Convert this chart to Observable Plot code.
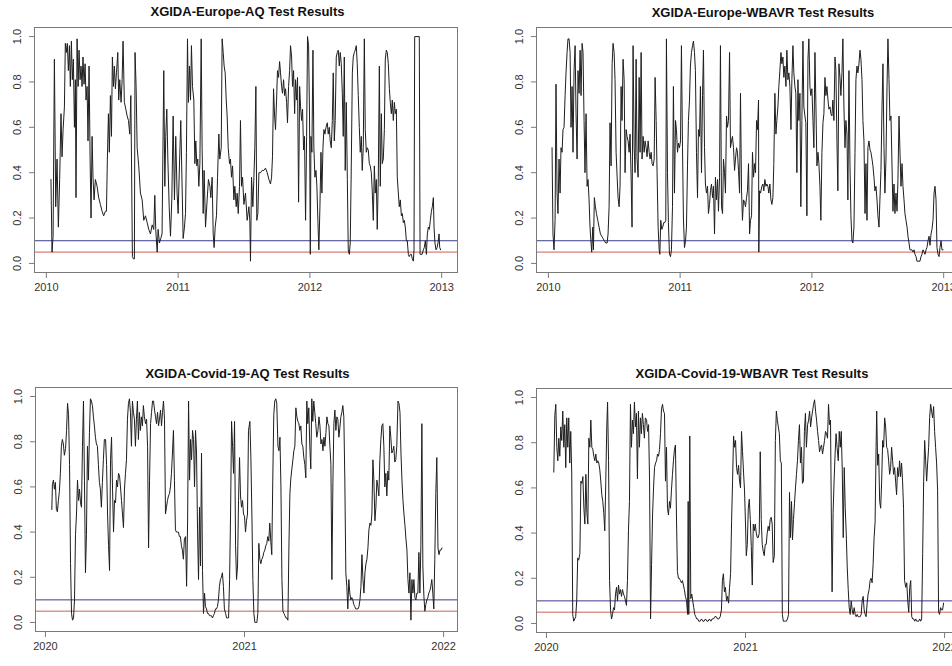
<!DOCTYPE html>
<html><head><meta charset="utf-8">
<script src="https://cdn.jsdelivr.net/npm/d3@7"></script>
<script src="https://cdn.jsdelivr.net/npm/@observablehq/plot@0.6"></script>
<style>
body{margin:0;background:#fff;}
#root{position:relative;width:952px;height:666px;overflow:hidden;background:#fff;font-family:"Liberation Sans",Arial,sans-serif;}
.panel{position:absolute;}
.panel svg{overflow:visible;max-width:none !important;display:block;}
.title{position:absolute;font-weight:bold;font-size:13px;line-height:13px;white-space:nowrap;transform:translateX(-50%);color:#111;}
</style></head><body><div id="root"></div>
<script>
// ---- titles and ticks ----
const titles = ["XGIDA-Europe-AQ Test Results", "XGIDA-Europe-WBAVR Test Results", "XGIDA-Covid-19-AQ Test Results", "XGIDA-Covid-19-WBAVR Test Results"];
const europeYears = [2010, 2011, 2012, 2013];
const covidYears = [2020, 2021, 2022];
const pTicks = [0, 0.2, 0.4, 0.6, 0.8, 1.0];
const thresholds = [0.1, 0.05];

// ---- series: [decimal year, p-value] ----
const europeAQ = [[2010.035,0.37],[2010.043,0.05],[2010.051,0.12],[2010.061,0.90],[2010.071,0.25],[2010.081,0.46],[2010.091,0.16],[2010.101,0.37],[2010.111,0.66],[2010.119,0.47],[2010.127,0.59],[2010.137,0.69],[2010.144,0.97],[2010.152,0.93],[2010.159,0.97],[2010.167,0.85],[2010.175,0.96],[2010.182,0.78],[2010.190,0.98],[2010.197,0.81],[2010.205,0.90],[2010.213,0.60],[2010.220,0.81],[2010.225,0.29],[2010.233,0.99],[2010.241,0.78],[2010.248,0.94],[2010.256,0.81],[2010.263,0.87],[2010.271,0.78],[2010.278,0.91],[2010.286,0.79],[2010.294,0.88],[2010.301,0.72],[2010.309,0.78],[2010.316,0.54],[2010.324,0.87],[2010.332,0.46],[2010.339,0.20],[2010.347,0.56],[2010.354,0.38],[2010.362,0.28],[2010.372,0.37],[2010.385,0.34],[2010.397,0.29],[2010.410,0.26],[2010.423,0.23],[2010.435,0.21],[2010.448,0.23],[2010.456,0.23],[2010.463,0.46],[2010.471,0.66],[2010.478,0.49],[2010.486,0.74],[2010.494,0.56],[2010.501,0.91],[2010.509,0.78],[2010.516,0.87],[2010.524,0.77],[2010.532,0.84],[2010.542,0.93],[2010.549,0.72],[2010.557,0.81],[2010.567,0.71],[2010.575,0.81],[2010.582,0.98],[2010.592,0.71],[2010.603,0.68],[2010.613,0.65],[2010.623,0.63],[2010.633,0.57],[2010.641,0.74],[2010.646,0.46],[2010.653,0.03],[2010.661,0.02],[2010.668,0.02],[2010.673,0.93],[2010.681,0.78],[2010.689,0.51],[2010.701,0.43],[2010.714,0.31],[2010.727,0.28],[2010.739,0.19],[2010.752,0.21],[2010.765,0.18],[2010.777,0.15],[2010.790,0.13],[2010.803,0.17],[2010.815,0.15],[2010.823,0.30],[2010.830,0.15],[2010.841,0.05],[2010.848,0.15],[2010.858,0.09],[2010.868,0.11],[2010.878,0.13],[2010.891,0.85],[2010.899,0.34],[2010.906,0.56],[2010.914,0.68],[2010.922,0.46],[2010.932,0.25],[2010.942,0.12],[2010.952,0.28],[2010.962,0.65],[2010.972,0.28],[2010.982,0.56],[2010.992,0.31],[2011.000,0.22],[2011.010,0.43],[2011.020,0.63],[2011.038,0.11],[2011.048,0.16],[2011.056,0.22],[2011.063,0.49],[2011.071,0.99],[2011.078,0.71],[2011.086,0.87],[2011.094,0.72],[2011.101,0.96],[2011.109,0.78],[2011.119,0.72],[2011.127,0.44],[2011.134,0.54],[2011.142,0.43],[2011.149,0.46],[2011.157,0.34],[2011.165,0.44],[2011.175,0.99],[2011.182,0.51],[2011.190,0.22],[2011.197,0.41],[2011.208,0.16],[2011.220,0.28],[2011.230,0.37],[2011.241,0.34],[2011.248,0.29],[2011.258,0.38],[2011.266,0.13],[2011.273,0.07],[2011.281,0.16],[2011.291,0.21],[2011.299,0.38],[2011.309,0.57],[2011.316,0.46],[2011.327,0.51],[2011.334,0.99],[2011.342,0.93],[2011.349,0.87],[2011.357,0.84],[2011.365,0.72],[2011.372,0.65],[2011.380,0.51],[2011.390,0.44],[2011.397,0.46],[2011.405,0.38],[2011.413,0.43],[2011.423,0.28],[2011.430,0.34],[2011.441,0.25],[2011.448,0.31],[2011.456,0.22],[2011.466,0.34],[2011.473,0.63],[2011.481,0.34],[2011.489,0.38],[2011.499,0.26],[2011.511,0.31],[2011.524,0.19],[2011.537,0.25],[2011.544,0.19],[2011.549,0.01],[2011.557,0.38],[2011.567,0.25],[2011.575,0.38],[2011.582,0.51],[2011.590,0.78],[2011.597,0.19],[2011.605,0.22],[2011.613,0.40],[2011.625,0.40],[2011.638,0.41],[2011.651,0.41],[2011.663,0.42],[2011.676,0.40],[2011.689,0.37],[2011.701,0.35],[2011.709,0.38],[2011.716,0.47],[2011.724,0.77],[2011.732,0.65],[2011.739,0.59],[2011.747,0.72],[2011.754,0.85],[2011.762,0.82],[2011.770,0.89],[2011.777,0.84],[2011.785,0.78],[2011.792,0.75],[2011.800,0.81],[2011.808,0.74],[2011.815,0.77],[2011.823,0.71],[2011.830,0.62],[2011.838,0.78],[2011.846,0.85],[2011.853,0.96],[2011.861,0.91],[2011.868,0.78],[2011.876,0.85],[2011.884,0.66],[2011.891,0.81],[2011.899,0.72],[2011.906,0.82],[2011.914,0.27],[2011.922,0.78],[2011.929,0.69],[2011.937,0.63],[2011.944,0.68],[2011.952,0.50],[2011.959,0.56],[2011.967,0.19],[2011.975,0.56],[2011.982,1.00],[2011.990,0.96],[2011.997,0.65],[2012.003,0.04],[2012.008,0.56],[2012.015,0.49],[2012.023,0.94],[2012.030,0.51],[2012.038,0.38],[2012.046,0.41],[2012.053,0.34],[2012.061,0.18],[2012.068,0.06],[2012.076,0.25],[2012.084,0.49],[2012.091,0.31],[2012.099,0.51],[2012.106,0.59],[2012.114,0.57],[2012.122,0.60],[2012.132,0.62],[2012.139,0.57],[2012.147,0.60],[2012.154,0.54],[2012.162,0.51],[2012.170,0.63],[2012.177,0.84],[2012.185,0.54],[2012.192,0.63],[2012.200,0.91],[2012.208,0.93],[2012.215,0.94],[2012.223,0.87],[2012.230,0.93],[2012.238,0.88],[2012.246,0.75],[2012.253,0.56],[2012.261,0.91],[2012.268,0.41],[2012.276,0.71],[2012.284,0.37],[2012.291,0.06],[2012.299,0.04],[2012.306,0.09],[2012.314,0.43],[2012.322,0.84],[2012.329,0.91],[2012.337,0.93],[2012.344,0.94],[2012.352,0.96],[2012.359,0.88],[2012.367,0.74],[2012.375,0.60],[2012.382,0.49],[2012.390,0.56],[2012.397,0.41],[2012.405,0.51],[2012.413,0.99],[2012.420,0.59],[2012.428,0.49],[2012.435,0.51],[2012.443,0.50],[2012.451,0.44],[2012.458,0.43],[2012.466,0.40],[2012.473,0.32],[2012.481,0.19],[2012.489,0.43],[2012.496,0.31],[2012.504,0.37],[2012.511,0.15],[2012.519,0.38],[2012.527,0.87],[2012.534,0.34],[2012.542,0.66],[2012.549,0.44],[2012.557,0.46],[2012.565,0.59],[2012.572,0.90],[2012.580,0.94],[2012.587,0.93],[2012.595,0.88],[2012.603,0.77],[2012.610,0.71],[2012.618,0.66],[2012.625,0.72],[2012.633,0.63],[2012.641,0.71],[2012.648,0.66],[2012.656,0.68],[2012.663,0.38],[2012.671,0.31],[2012.678,0.25],[2012.686,0.28],[2012.694,0.21],[2012.701,0.22],[2012.709,0.18],[2012.716,0.19],[2012.724,0.16],[2012.732,0.10],[2012.739,0.10],[2012.747,0.04],[2012.754,0.03],[2012.762,0.04],[2012.770,0.04],[2012.777,0.02],[2012.785,0.01],[2012.790,0.06],[2012.795,1.00],[2012.830,1.00],[2012.836,0.04],[2012.840,0.04],[2012.851,0.04],[2012.861,0.06],[2012.868,0.07],[2012.876,0.10],[2012.884,0.04],[2012.891,0.13],[2012.899,0.16],[2012.906,0.15],[2012.914,0.19],[2012.922,0.23],[2012.929,0.25],[2012.937,0.29],[2012.942,0.16],[2012.949,0.09],[2012.957,0.06],[2012.965,0.07],[2012.972,0.09],[2012.980,0.13],[2012.985,0.07],[2012.992,0.06]];

const europeWBAVR = [[2010.028,0.51],[2010.035,0.13],[2010.043,0.06],[2010.051,0.19],[2010.058,0.79],[2010.066,0.31],[2010.073,0.22],[2010.081,0.46],[2010.089,0.31],[2010.096,0.51],[2010.104,0.49],[2010.111,0.59],[2010.119,0.60],[2010.127,0.74],[2010.134,0.84],[2010.142,0.93],[2010.149,0.99],[2010.157,0.99],[2010.165,0.93],[2010.172,0.60],[2010.180,0.78],[2010.187,0.49],[2010.195,0.85],[2010.203,0.96],[2010.210,0.66],[2010.218,0.46],[2010.225,0.85],[2010.233,0.75],[2010.241,0.94],[2010.248,0.74],[2010.256,0.97],[2010.263,0.93],[2010.271,0.63],[2010.278,0.40],[2010.286,0.66],[2010.294,0.34],[2010.301,0.37],[2010.309,0.28],[2010.316,0.16],[2010.324,0.09],[2010.329,0.05],[2010.337,0.16],[2010.342,0.06],[2010.349,0.29],[2010.357,0.25],[2010.365,0.22],[2010.375,0.19],[2010.385,0.16],[2010.395,0.13],[2010.405,0.12],[2010.415,0.11],[2010.425,0.10],[2010.435,0.09],[2010.446,0.09],[2010.453,0.13],[2010.461,0.25],[2010.468,0.62],[2010.476,0.43],[2010.484,0.88],[2010.491,0.97],[2010.499,0.93],[2010.506,0.81],[2010.514,0.49],[2010.522,0.38],[2010.529,0.29],[2010.537,0.25],[2010.544,0.34],[2010.552,0.78],[2010.559,0.63],[2010.567,0.90],[2010.575,0.81],[2010.582,0.40],[2010.590,0.59],[2010.597,0.56],[2010.605,0.54],[2010.613,0.49],[2010.620,0.57],[2010.628,0.38],[2010.635,0.16],[2010.643,0.96],[2010.651,0.51],[2010.658,0.40],[2010.666,0.90],[2010.673,0.46],[2010.681,0.38],[2010.689,0.82],[2010.696,0.49],[2010.704,0.93],[2010.711,0.46],[2010.719,0.56],[2010.727,0.49],[2010.734,0.54],[2010.742,0.51],[2010.749,0.47],[2010.757,0.54],[2010.765,0.49],[2010.772,0.46],[2010.780,0.49],[2010.787,0.44],[2010.795,0.43],[2010.803,0.46],[2010.810,0.82],[2010.818,0.63],[2010.825,0.40],[2010.833,0.16],[2010.841,0.06],[2010.846,0.04],[2010.853,0.19],[2010.861,0.15],[2010.868,0.16],[2010.876,0.18],[2010.884,0.18],[2010.891,0.19],[2010.896,0.99],[2010.904,0.40],[2010.911,0.18],[2010.919,0.04],[2010.927,0.03],[2010.934,0.06],[2010.942,0.25],[2010.949,0.78],[2010.957,0.31],[2010.965,0.63],[2010.972,0.59],[2010.980,0.49],[2010.987,0.53],[2010.995,0.51],[2011.003,0.54],[2011.010,0.96],[2011.018,0.51],[2011.025,0.20],[2011.033,0.07],[2011.041,0.10],[2011.048,0.16],[2011.056,0.43],[2011.063,0.63],[2011.071,0.72],[2011.078,0.87],[2011.086,0.93],[2011.094,0.96],[2011.101,0.98],[2011.109,0.93],[2011.116,0.85],[2011.124,0.49],[2011.132,0.29],[2011.139,0.59],[2011.147,0.56],[2011.154,0.78],[2011.162,0.40],[2011.170,0.74],[2011.177,0.94],[2011.185,0.51],[2011.192,0.35],[2011.200,0.31],[2011.208,0.34],[2011.215,0.22],[2011.223,0.26],[2011.230,0.32],[2011.238,0.35],[2011.246,0.29],[2011.253,0.34],[2011.261,0.13],[2011.268,0.38],[2011.276,0.28],[2011.284,0.37],[2011.291,0.23],[2011.299,0.38],[2011.306,0.96],[2011.314,0.25],[2011.322,0.22],[2011.329,0.46],[2011.337,0.40],[2011.344,0.31],[2011.352,0.65],[2011.359,0.60],[2011.367,0.63],[2011.375,0.93],[2011.382,0.51],[2011.390,0.54],[2011.397,0.56],[2011.405,0.51],[2011.413,0.41],[2011.420,0.46],[2011.428,0.51],[2011.435,0.49],[2011.443,0.41],[2011.451,0.31],[2011.458,0.75],[2011.466,0.32],[2011.473,0.19],[2011.481,0.28],[2011.489,0.27],[2011.496,0.25],[2011.504,0.29],[2011.511,0.32],[2011.519,0.44],[2011.527,0.13],[2011.534,0.19],[2011.542,0.21],[2011.549,0.49],[2011.557,0.38],[2011.565,0.44],[2011.572,0.40],[2011.580,0.63],[2011.587,0.59],[2011.595,0.72],[2011.597,0.05],[2011.603,0.32],[2011.610,0.31],[2011.620,0.34],[2011.628,0.35],[2011.635,0.32],[2011.643,0.37],[2011.651,0.34],[2011.658,0.35],[2011.666,0.34],[2011.673,0.31],[2011.681,0.35],[2011.689,0.28],[2011.696,0.26],[2011.704,0.29],[2011.711,0.44],[2011.719,0.75],[2011.727,0.57],[2011.734,0.63],[2011.742,0.69],[2011.749,0.78],[2011.757,0.85],[2011.765,0.93],[2011.772,0.88],[2011.780,0.91],[2011.787,0.82],[2011.795,0.87],[2011.803,0.78],[2011.810,0.94],[2011.818,0.81],[2011.825,0.84],[2011.833,0.78],[2011.841,0.59],[2011.848,0.81],[2011.856,0.96],[2011.863,0.84],[2011.871,0.78],[2011.878,0.75],[2011.886,0.40],[2011.894,0.81],[2011.901,0.63],[2011.909,0.75],[2011.916,0.25],[2011.924,0.63],[2011.932,0.98],[2011.939,0.69],[2011.947,0.65],[2011.954,0.62],[2011.962,0.21],[2011.970,0.90],[2011.977,0.99],[2011.985,0.78],[2011.992,0.74],[2012.000,0.77],[2012.008,0.63],[2012.015,0.51],[2012.023,0.93],[2012.030,0.71],[2012.038,0.43],[2012.046,0.49],[2012.053,0.44],[2012.061,0.34],[2012.068,0.19],[2012.076,0.49],[2012.084,0.62],[2012.091,0.66],[2012.099,0.82],[2012.106,0.74],[2012.114,0.78],[2012.122,0.72],[2012.129,0.68],[2012.137,0.69],[2012.144,0.66],[2012.152,0.65],[2012.159,0.72],[2012.167,0.63],[2012.175,0.91],[2012.182,0.85],[2012.190,0.54],[2012.197,0.32],[2012.205,0.88],[2012.213,0.82],[2012.220,0.74],[2012.228,0.84],[2012.235,0.99],[2012.243,0.69],[2012.251,0.51],[2012.258,0.63],[2012.266,0.57],[2012.273,0.28],[2012.281,0.85],[2012.289,0.43],[2012.296,0.21],[2012.304,0.10],[2012.311,0.09],[2012.319,0.16],[2012.327,0.49],[2012.334,0.81],[2012.342,0.87],[2012.349,0.84],[2012.357,0.88],[2012.365,0.94],[2012.372,0.90],[2012.380,0.81],[2012.387,0.63],[2012.395,0.54],[2012.403,0.22],[2012.410,0.44],[2012.418,0.19],[2012.425,0.51],[2012.433,0.54],[2012.441,0.50],[2012.448,0.49],[2012.456,0.46],[2012.463,0.43],[2012.471,0.38],[2012.478,0.32],[2012.486,0.34],[2012.494,0.28],[2012.501,0.21],[2012.509,0.16],[2012.516,0.28],[2012.524,0.41],[2012.532,0.69],[2012.539,0.88],[2012.547,0.51],[2012.554,0.31],[2012.562,0.46],[2012.570,0.78],[2012.577,0.99],[2012.585,0.81],[2012.592,0.63],[2012.600,0.65],[2012.608,0.43],[2012.615,0.23],[2012.623,0.35],[2012.630,0.22],[2012.638,0.31],[2012.646,0.23],[2012.653,0.37],[2012.661,0.65],[2012.668,0.50],[2012.676,0.34],[2012.684,0.44],[2012.691,0.34],[2012.699,0.28],[2012.706,0.22],[2012.714,0.19],[2012.722,0.16],[2012.729,0.12],[2012.737,0.09],[2012.744,0.06],[2012.752,0.06],[2012.759,0.06],[2012.767,0.05],[2012.775,0.06],[2012.782,0.04],[2012.790,0.03],[2012.797,0.01],[2012.805,0.01],[2012.813,0.01],[2012.820,0.01],[2012.828,0.03],[2012.835,0.04],[2012.843,0.06],[2012.851,0.05],[2012.858,0.04],[2012.866,0.06],[2012.873,0.07],[2012.881,0.10],[2012.889,0.12],[2012.896,0.08],[2012.904,0.13],[2012.911,0.15],[2012.919,0.19],[2012.927,0.31],[2012.934,0.34],[2012.942,0.28],[2012.949,0.07],[2012.957,0.04],[2012.965,0.03],[2012.972,0.07],[2012.980,0.10],[2012.987,0.06],[2012.995,0.06]];

const covidAQ = [[2020.032,0.50],[2020.035,0.61],[2020.040,0.63],[2020.045,0.59],[2020.050,0.62],[2020.055,0.50],[2020.060,0.49],[2020.065,0.54],[2020.070,0.58],[2020.075,0.66],[2020.080,0.78],[2020.085,0.81],[2020.090,0.79],[2020.095,0.74],[2020.101,0.77],[2020.106,0.85],[2020.111,0.97],[2020.116,0.92],[2020.121,0.70],[2020.126,0.26],[2020.131,0.04],[2020.136,0.01],[2020.141,0.02],[2020.146,0.10],[2020.151,0.39],[2020.156,0.48],[2020.161,0.63],[2020.166,0.54],[2020.171,0.59],[2020.176,0.53],[2020.181,0.51],[2020.186,0.78],[2020.191,0.98],[2020.196,0.63],[2020.201,0.22],[2020.206,0.39],[2020.211,0.78],[2020.216,0.63],[2020.221,0.84],[2020.226,0.99],[2020.231,0.98],[2020.236,0.96],[2020.241,0.91],[2020.246,0.87],[2020.251,0.82],[2020.256,0.79],[2020.261,0.78],[2020.266,0.70],[2020.271,0.62],[2020.276,0.59],[2020.281,0.51],[2020.286,0.62],[2020.291,0.72],[2020.296,0.81],[2020.302,0.81],[2020.307,0.70],[2020.312,0.48],[2020.317,0.34],[2020.322,0.23],[2020.327,0.72],[2020.332,0.82],[2020.337,0.59],[2020.342,0.40],[2020.347,0.54],[2020.352,0.53],[2020.357,0.63],[2020.362,0.60],[2020.367,0.66],[2020.372,0.65],[2020.377,0.60],[2020.382,0.54],[2020.387,0.48],[2020.392,0.42],[2020.397,0.59],[2020.402,0.66],[2020.407,0.72],[2020.412,0.90],[2020.417,0.97],[2020.422,0.99],[2020.427,0.93],[2020.432,0.78],[2020.437,0.98],[2020.442,0.93],[2020.447,0.90],[2020.452,0.78],[2020.457,0.90],[2020.462,0.98],[2020.467,0.81],[2020.472,0.93],[2020.477,0.85],[2020.482,0.91],[2020.487,0.87],[2020.492,0.96],[2020.497,0.91],[2020.503,0.88],[2020.508,0.90],[2020.513,0.78],[2020.518,0.33],[2020.523,0.63],[2020.528,0.88],[2020.533,0.93],[2020.538,0.98],[2020.543,0.98],[2020.548,0.94],[2020.553,0.91],[2020.558,0.88],[2020.563,0.93],[2020.568,0.87],[2020.573,0.90],[2020.578,0.94],[2020.583,0.87],[2020.588,0.93],[2020.593,0.98],[2020.598,0.90],[2020.603,0.48],[2020.608,0.51],[2020.613,0.54],[2020.618,0.56],[2020.623,0.57],[2020.628,0.60],[2020.633,0.66],[2020.638,0.75],[2020.643,0.85],[2020.648,0.63],[2020.653,0.41],[2020.658,0.40],[2020.663,0.40],[2020.668,0.40],[2020.673,0.38],[2020.678,0.38],[2020.683,0.34],[2020.688,0.32],[2020.693,0.28],[2020.698,0.37],[2020.704,0.38],[2020.709,0.16],[2020.714,0.44],[2020.719,0.98],[2020.724,0.63],[2020.729,0.81],[2020.734,0.72],[2020.739,0.85],[2020.744,0.81],[2020.749,0.60],[2020.754,0.85],[2020.759,0.75],[2020.764,0.41],[2020.769,0.19],[2020.774,0.51],[2020.779,0.25],[2020.784,0.75],[2020.789,0.23],[2020.794,0.04],[2020.799,0.13],[2020.804,0.07],[2020.809,0.06],[2020.814,0.04],[2020.819,0.04],[2020.824,0.03],[2020.829,0.03],[2020.834,0.03],[2020.839,0.02],[2020.844,0.03],[2020.849,0.04],[2020.854,0.06],[2020.859,0.06],[2020.864,0.07],[2020.869,0.10],[2020.874,0.16],[2020.879,0.19],[2020.884,0.20],[2020.889,0.22],[2020.894,0.16],[2020.899,0.06],[2020.905,0.04],[2020.910,0.02],[2020.915,0.02],[2020.920,0.02],[2020.925,0.19],[2020.930,0.48],[2020.935,0.89],[2020.940,0.78],[2020.945,0.66],[2020.950,0.89],[2020.955,0.34],[2020.960,0.19],[2020.965,0.25],[2020.970,0.54],[2020.975,0.73],[2020.980,0.56],[2020.985,0.51],[2020.990,0.54],[2020.995,0.48],[2021.000,0.47],[2021.005,0.40],[2021.010,0.45],[2021.015,0.48],[2021.020,0.85],[2021.027,0.89],[2021.032,0.73],[2021.037,0.48],[2021.042,0.19],[2021.047,0.04],[2021.052,0.00],[2021.057,0.00],[2021.062,0.00],[2021.067,0.04],[2021.072,0.35],[2021.077,0.28],[2021.082,0.26],[2021.087,0.28],[2021.092,0.29],[2021.097,0.31],[2021.102,0.32],[2021.107,0.34],[2021.112,0.35],[2021.117,0.38],[2021.122,0.36],[2021.127,0.44],[2021.132,0.36],[2021.137,0.30],[2021.142,0.63],[2021.147,0.92],[2021.152,0.98],[2021.157,0.99],[2021.162,0.97],[2021.168,0.78],[2021.173,0.76],[2021.178,0.82],[2021.183,0.60],[2021.188,0.19],[2021.193,0.05],[2021.198,0.04],[2021.203,0.03],[2021.208,0.02],[2021.213,0.02],[2021.218,0.01],[2021.223,0.33],[2021.228,0.57],[2021.233,0.64],[2021.238,0.68],[2021.243,0.72],[2021.248,0.76],[2021.253,0.78],[2021.258,0.95],[2021.263,0.91],[2021.268,0.89],[2021.273,0.88],[2021.278,0.85],[2021.283,0.87],[2021.288,0.79],[2021.293,0.78],[2021.298,0.73],[2021.303,0.70],[2021.308,0.64],[2021.313,0.98],[2021.318,0.88],[2021.323,0.95],[2021.328,0.78],[2021.333,0.68],[2021.338,0.99],[2021.343,0.89],[2021.348,0.98],[2021.353,0.93],[2021.358,0.88],[2021.363,0.82],[2021.369,0.85],[2021.374,0.91],[2021.379,0.87],[2021.384,0.79],[2021.389,0.81],[2021.394,0.76],[2021.399,0.82],[2021.404,0.78],[2021.409,0.84],[2021.414,0.91],[2021.419,0.88],[2021.424,0.87],[2021.429,0.78],[2021.434,0.70],[2021.439,0.19],[2021.444,0.62],[2021.449,0.88],[2021.454,0.94],[2021.459,0.85],[2021.464,0.91],[2021.469,0.90],[2021.474,0.82],[2021.479,0.86],[2021.484,0.91],[2021.489,0.93],[2021.494,0.96],[2021.499,0.91],[2021.504,0.63],[2021.509,0.22],[2021.514,0.16],[2021.519,0.06],[2021.524,0.19],[2021.529,0.13],[2021.534,0.10],[2021.539,0.11],[2021.544,0.10],[2021.549,0.08],[2021.554,0.07],[2021.559,0.06],[2021.564,0.06],[2021.570,0.06],[2021.575,0.07],[2021.580,0.10],[2021.585,0.16],[2021.590,0.30],[2021.595,0.19],[2021.600,0.13],[2021.605,0.22],[2021.610,0.26],[2021.615,0.28],[2021.620,0.33],[2021.625,0.41],[2021.630,0.44],[2021.635,0.43],[2021.640,0.48],[2021.645,0.72],[2021.650,0.63],[2021.655,0.45],[2021.660,0.51],[2021.665,0.63],[2021.670,0.60],[2021.675,0.56],[2021.680,0.72],[2021.685,0.81],[2021.690,0.87],[2021.695,0.88],[2021.700,0.78],[2021.705,0.60],[2021.710,0.66],[2021.715,0.56],[2021.720,0.67],[2021.725,0.63],[2021.730,0.87],[2021.735,0.82],[2021.740,0.75],[2021.745,0.76],[2021.750,0.78],[2021.755,0.71],[2021.760,0.72],[2021.765,0.78],[2021.771,0.98],[2021.776,0.97],[2021.781,0.93],[2021.786,0.75],[2021.791,0.63],[2021.796,0.54],[2021.801,0.48],[2021.806,0.43],[2021.811,0.37],[2021.816,0.32],[2021.821,0.19],[2021.826,0.13],[2021.831,0.22],[2021.836,0.01],[2021.841,0.19],[2021.846,0.13],[2021.851,0.19],[2021.856,0.11],[2021.861,0.10],[2021.866,0.13],[2021.871,0.13],[2021.876,0.31],[2021.881,0.13],[2021.886,0.34],[2021.891,0.88],[2021.896,0.25],[2021.901,0.12],[2021.906,0.05],[2021.911,0.08],[2021.916,0.10],[2021.921,0.11],[2021.926,0.13],[2021.931,0.14],[2021.936,0.16],[2021.941,0.19],[2021.946,0.13],[2021.951,0.06],[2021.956,0.28],[2021.961,0.57],[2021.966,0.73],[2021.972,0.33],[2021.977,0.30],[2021.982,0.32],[2021.987,0.32],[2021.992,0.33]];

const covidWBAVR = [[2020.037,0.67],[2020.042,0.92],[2020.047,0.97],[2020.052,0.78],[2020.057,0.72],[2020.062,0.82],[2020.067,0.74],[2020.072,0.87],[2020.077,0.81],[2020.082,0.94],[2020.087,0.78],[2020.092,0.88],[2020.097,0.69],[2020.102,0.91],[2020.107,0.78],[2020.112,0.91],[2020.117,0.71],[2020.122,0.85],[2020.127,0.67],[2020.132,0.04],[2020.137,0.01],[2020.142,0.02],[2020.147,0.03],[2020.152,0.10],[2020.157,0.29],[2020.162,0.28],[2020.168,0.31],[2020.173,0.63],[2020.178,0.62],[2020.183,0.65],[2020.188,0.51],[2020.193,0.44],[2020.198,0.66],[2020.203,0.49],[2020.208,0.44],[2020.213,0.82],[2020.218,0.78],[2020.223,0.90],[2020.228,0.78],[2020.233,0.77],[2020.238,0.74],[2020.243,0.72],[2020.248,0.75],[2020.253,0.71],[2020.258,0.72],[2020.263,0.71],[2020.268,0.68],[2020.273,0.63],[2020.278,0.57],[2020.283,0.54],[2020.288,0.49],[2020.293,0.41],[2020.298,0.63],[2020.303,0.87],[2020.307,0.98],[2020.312,0.72],[2020.317,0.19],[2020.322,0.06],[2020.327,0.02],[2020.332,0.04],[2020.337,0.07],[2020.342,0.06],[2020.347,0.13],[2020.352,0.16],[2020.357,0.10],[2020.362,0.17],[2020.367,0.13],[2020.372,0.15],[2020.377,0.12],[2020.382,0.15],[2020.387,0.13],[2020.392,0.12],[2020.397,0.10],[2020.402,0.08],[2020.407,0.19],[2020.412,0.41],[2020.417,0.54],[2020.422,0.97],[2020.427,0.78],[2020.432,0.90],[2020.437,0.84],[2020.442,0.98],[2020.447,0.87],[2020.452,0.93],[2020.457,0.64],[2020.462,0.94],[2020.467,0.78],[2020.472,0.91],[2020.477,0.84],[2020.482,0.93],[2020.487,0.88],[2020.492,0.82],[2020.497,0.91],[2020.503,0.90],[2020.508,0.85],[2020.513,0.88],[2020.518,0.63],[2020.523,0.02],[2020.528,0.26],[2020.533,0.48],[2020.538,0.60],[2020.543,0.69],[2020.548,0.71],[2020.553,0.72],[2020.558,0.75],[2020.563,0.74],[2020.568,0.77],[2020.573,0.84],[2020.578,0.95],[2020.583,0.97],[2020.588,0.94],[2020.593,0.93],[2020.598,0.63],[2020.603,0.78],[2020.608,0.51],[2020.613,0.48],[2020.618,0.54],[2020.623,0.51],[2020.628,0.59],[2020.633,0.66],[2020.638,0.72],[2020.643,0.77],[2020.648,0.79],[2020.653,0.48],[2020.658,0.23],[2020.663,0.20],[2020.668,0.20],[2020.673,0.19],[2020.678,0.18],[2020.683,0.19],[2020.688,0.17],[2020.693,0.15],[2020.698,0.12],[2020.704,0.10],[2020.709,0.04],[2020.712,0.54],[2020.715,0.04],[2020.720,0.83],[2020.725,0.11],[2020.730,0.13],[2020.735,0.10],[2020.740,0.07],[2020.745,0.04],[2020.750,0.03],[2020.755,0.02],[2020.760,0.02],[2020.765,0.01],[2020.772,0.01],[2020.779,0.02],[2020.786,0.01],[2020.792,0.01],[2020.799,0.02],[2020.806,0.01],[2020.812,0.01],[2020.819,0.02],[2020.826,0.01],[2020.832,0.02],[2020.839,0.02],[2020.846,0.03],[2020.853,0.03],[2020.859,0.02],[2020.866,0.02],[2020.873,0.03],[2020.879,0.06],[2020.884,0.19],[2020.889,0.22],[2020.894,0.14],[2020.899,0.16],[2020.905,0.10],[2020.910,0.12],[2020.915,0.09],[2020.920,0.16],[2020.925,0.22],[2020.930,0.45],[2020.935,0.63],[2020.940,0.83],[2020.945,0.78],[2020.950,0.81],[2020.955,0.69],[2020.960,0.66],[2020.965,0.70],[2020.970,0.63],[2020.975,0.60],[2020.980,0.85],[2020.985,0.76],[2020.990,0.67],[2020.995,0.59],[2021.000,0.44],[2021.004,0.30],[2021.009,0.35],[2021.014,0.51],[2021.019,0.55],[2021.024,0.46],[2021.029,0.34],[2021.034,0.17],[2021.039,0.44],[2021.044,0.41],[2021.049,0.44],[2021.054,0.40],[2021.059,0.38],[2021.064,0.38],[2021.069,0.40],[2021.074,0.76],[2021.079,0.46],[2021.084,0.35],[2021.089,0.32],[2021.094,0.30],[2021.099,0.35],[2021.104,0.35],[2021.109,0.40],[2021.114,0.43],[2021.119,0.41],[2021.124,0.46],[2021.129,0.47],[2021.134,0.44],[2021.139,0.27],[2021.145,0.30],[2021.150,0.81],[2021.155,0.94],[2021.160,0.90],[2021.165,0.87],[2021.170,0.84],[2021.175,0.72],[2021.180,0.71],[2021.185,0.04],[2021.190,0.01],[2021.195,0.01],[2021.200,0.01],[2021.205,0.01],[2021.211,0.02],[2021.216,0.04],[2021.221,0.58],[2021.226,0.38],[2021.231,0.54],[2021.236,0.37],[2021.241,0.46],[2021.246,0.53],[2021.251,0.60],[2021.256,0.66],[2021.261,0.72],[2021.266,0.81],[2021.271,0.88],[2021.276,0.71],[2021.281,0.78],[2021.286,0.62],[2021.291,0.63],[2021.296,0.85],[2021.301,0.93],[2021.306,0.78],[2021.312,0.88],[2021.317,0.90],[2021.322,0.94],[2021.327,0.87],[2021.332,0.91],[2021.337,0.94],[2021.342,0.97],[2021.347,0.99],[2021.352,0.94],[2021.357,0.90],[2021.362,0.85],[2021.367,0.81],[2021.372,0.76],[2021.377,0.78],[2021.382,0.79],[2021.387,0.75],[2021.392,0.78],[2021.397,0.81],[2021.402,0.85],[2021.407,0.84],[2021.412,0.82],[2021.417,0.97],[2021.422,0.88],[2021.427,0.90],[2021.432,0.40],[2021.435,0.14],[2021.440,0.49],[2021.445,0.63],[2021.450,0.75],[2021.455,0.84],[2021.460,0.78],[2021.466,0.72],[2021.471,0.85],[2021.476,0.78],[2021.481,0.85],[2021.486,0.68],[2021.491,0.38],[2021.496,0.69],[2021.501,0.51],[2021.506,0.40],[2021.511,0.25],[2021.516,0.15],[2021.521,0.07],[2021.526,0.04],[2021.531,0.10],[2021.536,0.06],[2021.541,0.04],[2021.546,0.07],[2021.551,0.04],[2021.556,0.03],[2021.561,0.04],[2021.566,0.03],[2021.571,0.03],[2021.576,0.03],[2021.581,0.04],[2021.586,0.10],[2021.591,0.12],[2021.596,0.06],[2021.601,0.04],[2021.606,0.03],[2021.611,0.09],[2021.616,0.13],[2021.621,0.15],[2021.626,0.19],[2021.631,0.20],[2021.636,0.18],[2021.641,0.26],[2021.646,0.38],[2021.651,0.45],[2021.656,0.78],[2021.659,0.94],[2021.664,0.70],[2021.669,0.75],[2021.674,0.54],[2021.679,0.51],[2021.684,0.63],[2021.689,0.81],[2021.694,0.78],[2021.699,0.91],[2021.704,0.87],[2021.709,0.78],[2021.714,0.77],[2021.719,0.72],[2021.724,0.66],[2021.729,0.69],[2021.734,0.78],[2021.739,0.72],[2021.744,0.66],[2021.749,0.69],[2021.754,0.63],[2021.759,0.57],[2021.764,0.69],[2021.769,0.65],[2021.774,0.72],[2021.779,0.65],[2021.784,0.71],[2021.789,0.63],[2021.794,0.51],[2021.799,0.19],[2021.805,0.16],[2021.810,0.18],[2021.815,0.10],[2021.820,0.05],[2021.825,0.16],[2021.830,0.19],[2021.835,0.03],[2021.840,0.02],[2021.845,0.02],[2021.850,0.01],[2021.855,0.02],[2021.860,0.01],[2021.865,0.01],[2021.870,0.01],[2021.875,0.02],[2021.880,0.01],[2021.885,0.02],[2021.890,0.31],[2021.895,0.63],[2021.900,0.81],[2021.905,0.72],[2021.910,0.63],[2021.915,0.71],[2021.920,0.78],[2021.925,0.91],[2021.930,0.97],[2021.935,0.94],[2021.940,0.91],[2021.945,0.96],[2021.950,0.85],[2021.955,0.78],[2021.960,0.71],[2021.965,0.59],[2021.970,0.05],[2021.975,0.04],[2021.980,0.07],[2021.985,0.06],[2021.990,0.06],[2021.995,0.09]];

// ---- drawing ----
const BLUE = "#3c3c8c", RED = "#c8605a", BOX = "#7a7a7a";
const root = document.getElementById("root");

function panel(data, xDomain, xTicks, pos) {
  const mL = 34, mR = 13, mT = 27, mB = 34;
  const W = mL + pos.boxW + mR, H = mT + pos.boxH + mB;
  const chart = Plot.plot({
    width: W,
    height: H,
    marginLeft: mL, marginRight: mR, marginTop: mT, marginBottom: mB,
    style: {fontFamily: "'Liberation Sans', Arial, sans-serif", fontSize: "11px", color: "#333", background: "transparent", overflow: "visible", maxWidth: "none"},
    x: {domain: xDomain, label: null},
    y: {domain: [-0.04, 1.04], label: null},
    marks: [
      Plot.ruleY([thresholds[0]], {stroke: BLUE, strokeWidth: 1}),
      Plot.ruleY([thresholds[1]], {stroke: RED, strokeWidth: 1}),
      Plot.line(data, {x: d => d[0], y: d => d[1], stroke: "#1e1e1e", strokeWidth: 1}),
      Plot.frame({stroke: BOX}),
      Plot.axisX({ticks: xTicks, tickFormat: "d", tickSize: 6, tickPadding: 5, stroke: BOX, fill: "#333", label: null}),
      Plot.axisY({ticks: pTicks, tickFormat: ".1f", tickSize: 5, tickRotate: -90, tickPadding: 9, stroke: BOX, fill: "#333", label: null})
    ]
  });
  const div = document.createElement("div");
  div.className = "panel";
  div.style.left = (pos.boxL - mL) + "px";
  div.style.top = (pos.boxT - mT) + "px";
  div.style.width = W + "px";
  div.style.height = H + "px";
  div.appendChild(chart);
  root.appendChild(div);
}

function title(text, cx, cy) {
  const t = document.createElement("div");
  t.className = "title";
  t.textContent = text;
  t.style.left = cx + "px";
  t.style.top = (cy - 6.5) + "px";
  root.appendChild(t);
}

const euroDomain = [2009.91, 2013.12];
const covidDomain = [2019.95, 2022.07];
panel(europeAQ, euroDomain, europeYears, {boxL: 34, boxT: 27, boxW: 423, boxH: 245});
panel(europeWBAVR, euroDomain, europeYears, {boxL: 536, boxT: 27, boxW: 423, boxH: 245});
panel(covidAQ, covidDomain, covidYears, {boxL: 35, boxT: 387, boxW: 422, boxH: 244});
panel(covidWBAVR, covidDomain, covidYears, {boxL: 536, boxT: 388, boxW: 422, boxH: 244});
title(titles[0], 247.5, 11);
title(titles[1], 763, 12);
title(titles[2], 247.5, 373);
title(titles[3], 752, 373);
</script>
</body></html>
